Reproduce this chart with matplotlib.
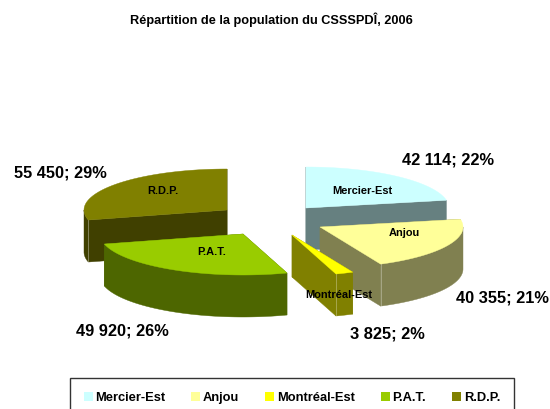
import numpy as np
import matplotlib
matplotlib.use("Agg")
import matplotlib.pyplot as plt
from matplotlib.patches import Patch, Polygon

plt.rcParams["font.family"] = ["Liberation Sans", "DejaVu Sans"]

# Data
names = ["Mercier-Est", "Anjou", "Montréal-Est", "P.A.T.", "R.D.P."]
values = [42114, 40355, 3825, 49920, 55450]

# Colours
top_colors = ["#CCFFFF", "#FFFF99", "#FFFF00", "#99CC00", "#808000"]
side_colors = ["#668080", "#808050", "#808000", "#4D6600", "#404000"]

# Layout, in picture pixels
apex = [(306, 208), (320, 227), (292, 235), (243, 234), (227, 210)]
name_pos = [(362, 191), (404, 233), (339, 295), (212, 252), (163, 191)]
value_pos = [(448, 160), (502, 298), (387, 334), (122, 331), (60, 173)]
draw_order = [4, 0, 1, 3, 2]
rx, ry, depth = 143, 41, 42


def rim(cx, cy, a0, a1, dy=0):
    t = np.radians(np.linspace(a0, a1, 80))
    return np.column_stack([cx + rx * np.sin(t), cy - ry * np.cos(t) + dy])


fig = plt.figure(figsize=(5.5, 4.09), dpi=100)
ax = fig.add_axes([0, 0, 1, 1])
ax.set_xlim(0, 550)
ax.set_ylim(409, 0)
ax.axis("off")

total = sum(values)
edges = np.concatenate([[0], np.cumsum(values) / total * 360])

for i in draw_order:
    a0, a1 = edges[i], edges[i + 1]
    cx, cy = apex[i]
    # Cut walls
    for a in (a0, a1):
        e = rim(cx, cy, a, a)[0]
        wall = [(cx, cy), e, (e[0], e[1] + depth), (cx, cy + depth)]
        ax.add_patch(Polygon(wall, fc=side_colors[i], ec=side_colors[i], lw=0.3))
    # Outer band, front half only
    b0, b1 = max(a0, 90), min(a1, 270)
    if b1 > b0:
        band = np.vstack([rim(cx, cy, b0, b1), rim(cx, cy, b1, b0, depth)])
        ax.add_patch(Polygon(band, fc=side_colors[i], ec=side_colors[i], lw=0.3))
    # Pale seam where a visible wall meets the band
    seam = a1 if 90 < a1 < 180 else (a0 if 180 < a0 < 270 else None)
    if seam is not None:
        e = rim(cx, cy, seam, seam)[0]
        ax.plot([e[0], e[0]], [e[1], e[1] + depth], color="white", lw=0.6, alpha=0.35)
    # Top face
    top = np.vstack([[(cx, cy)], rim(cx, cy, a0, a1)])
    ax.add_patch(Polygon(top, fc=top_colors[i], ec=top_colors[i], lw=0.3))

for i in range(len(names)):
    ax.text(*name_pos[i], names[i], fontsize=7.9, fontweight="bold",
            ha="center", va="center", color="black")
    label = f"{values[i]:,}".replace(",", " ") + f"; {values[i] / total * 100:.0f}%"
    ax.text(*value_pos[i], label, fontsize=11.8, fontweight="bold",
            ha="center", va="center", color="black")

ax.text(271, 20, "Répartition de la population du CSSSPDÎ, 2006", fontsize=9.2,
        fontweight="bold", ha="center", va="center", color="black")

handles = [Patch(fc=c, ec="none") for c in top_colors]
leg = ax.legend(handles, names, loc="upper left", bbox_to_anchor=(70, 378),
                bbox_transform=ax.transData, ncol=5, borderaxespad=0,
                prop={"size": 9.3, "weight": "bold"}, fancybox=False,
                framealpha=1, edgecolor="#333333", borderpad=1.05,
                columnspacing=2.02, handlelength=0.7, handleheight=0.7,
                handletextpad=0.2)
leg.get_frame().set_linewidth(1.0)

fig.savefig("out.png", dpi=100)
